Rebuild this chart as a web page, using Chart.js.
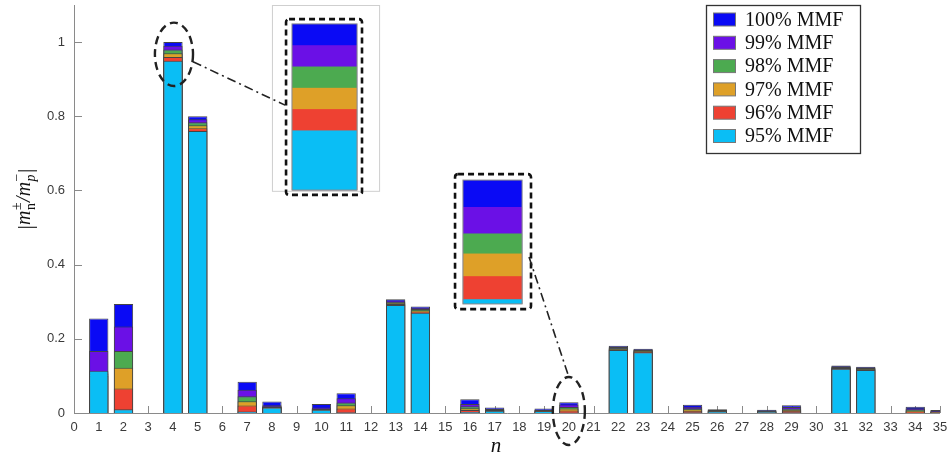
<!DOCTYPE html>
<html><head><meta charset="utf-8">
<script src="https://cdn.jsdelivr.net/npm/chart.js@4.4.1/dist/chart.umd.min.js"></script>
<style>html,body{margin:0;padding:0;background:#fff}#wrap{width:951px;height:459px;position:relative}</style>
</head><body><div id="wrap"><canvas id="c"></canvas></div>
<script>
// ---------- data ----------
const harmonics = [1,2,4,5,7,8,10,11,13,14,16,17,19,20,22,23,25,26,28,29,31,32,34,35];
const mmf100 = [0.255,0.294,1.000,0.800,0.084,0.031,0.024,0.053,0.307,0.287,0.037,0.015,0.012,0.029,0.181,0.173,0.022,0.010,0.009,0.021,0.128,0.125,0.017,0.008];
const mmf99  = [0.167,0.233,0.990,0.792,0.063,0.021,0.015,0.040,0.303,0.284,0.024,0.011,0.009,0.0227,0.178,0.1715,0.017,0.008,0.007,0.016,0.126,0.123,0.013,0.006];
const mmf98  = [0.110,0.167,0.980,0.784,0.045,0.018,0.012,0.028,0.300,0.2805,0.018,0.009,0.008,0.0165,0.176,0.170,0.013,0.007,0.006,0.012,0.124,0.121,0.010,0.004];
const mmf97  = [0.105,0.122,0.970,0.776,0.032,0.017,0.011,0.021,0.297,0.277,0.013,0.008,0.007,0.0118,0.174,0.168,0.010,0.006,0.005,0.009,0.1225,0.1195,0.007,0.003];
const mmf96  = [0.100,0.066,0.960,0.768,0.020,0.016,0.010,0.012,0.294,0.2735,0.008,0.007,0.006,0.0065,0.172,0.166,0.006,0.005,0.004,0.006,0.121,0.118,0.004,0.002];
const mmf95  = [0.114,0.010,0.950,0.760,0.004,0.015,0.009,0.002,0.291,0.270,0.003,0.006,0.005,0.0011,0.170,0.164,0.002,0.004,0.003,0.002,0.119,0.116,0.001,0.001];
const seriesLabels = ['95% MMF','96% MMF','97% MMF','98% MMF','99% MMF','100% MMF'];
const xTicks = [0,1,2,3,4,5,6,7,8,9,10,11,12,13,14,15,16,17,18,19,20,21,22,23,24,25,26,27,28,29,30,31,32,33,34,35];
const yTicks = [0,0.2,0.4,0.6,0.8,1];

// ---------- style ----------
const seriesColors = ['#0abef5','#ee4132','#dea028','#4caa50','#6b10e6','#0a0af5'];
const series = [mmf95, mmf96, mmf97, mmf98, mmf99, mmf100];
const AXIS = '#8a8a8a', TXT = '#3a3a3a';
const SERIF = '"Liberation Serif","Times New Roman",serif';
const SANS = '"Liberation Sans",Arial,sans-serif';

const datasets = series.map((s,k)=>({
  label: seriesLabels[k],
  data: harmonics.map((h,i)=>({x:h, y:s[i]})),
  backgroundColor: seriesColors[k],
  borderColor: '#454545',
  borderWidth: 1,
  grouped: false,
  barPercentage: 0.78,
  categoryPercentage: 1
}));

// ---------- plugins ----------
const axesPlugin = {
  id:'axesP',
  beforeDatasetsDraw(chart){
    const {ctx, chartArea:a, scales:{x,y}} = chart;
    ctx.save();
    ctx.strokeStyle = AXIS; ctx.lineWidth = 1;
    ctx.beginPath();
    x.ticks.forEach(t=>{const px=Math.round(x.getPixelForValue(t.value))+0.5; ctx.moveTo(px,a.bottom); ctx.lineTo(px,a.bottom-7);});
    y.ticks.forEach(t=>{const py=Math.round(y.getPixelForValue(t.value))+0.5; ctx.moveTo(a.left,py); ctx.lineTo(a.left+8,py);});
    ctx.stroke();
    ctx.beginPath();
    ctx.moveTo(a.left+0.5, a.top); ctx.lineTo(a.left+0.5, a.bottom+0.5); ctx.lineTo(a.right, a.bottom+0.5);
    ctx.stroke();
    ctx.restore();
  }
};

function insetBar(ctx, x, y, idx, x0, x1, y0, y1, lo, hi){
  const X0=x.getPixelForValue(x0), X1=x.getPixelForValue(x1);
  const Y0=y.getPixelForValue(y0), Y1=y.getPixelForValue(y1);
  for(let k=series.length-1;k>=0;k--){
    const v = Math.min(Math.max(series[k][idx],lo),hi);
    const top = Y0 - (v-lo)/(hi-lo)*(Y0-Y1);
    ctx.fillStyle = seriesColors[k];
    ctx.fillRect(X0, top, X1-X0, Y0-top);
  }
  ctx.strokeStyle='#8a8a8a'; ctx.lineWidth=1;
  ctx.strokeRect(X0, Y1, X1-X0, Y0-Y1);
}
function dashedRect(ctx, x, y, x0, x1, y0, y1){
  const X0=x.getPixelForValue(x0), X1=x.getPixelForValue(x1);
  const Y0=y.getPixelForValue(y0), Y1=y.getPixelForValue(y1);
  ctx.save(); ctx.strokeStyle='#111'; ctx.lineWidth=2.6; ctx.setLineDash([6,4]);
  ctx.beginPath(); ctx.roundRect(X0, Y1, X1-X0, Y0-Y1, 3); ctx.stroke(); ctx.restore();
}
function dashedEllipse(ctx, x, y, cx, cy, rx, ry){
  const CX=x.getPixelForValue(cx), CY=y.getPixelForValue(cy);
  const RX=Math.abs(x.getPixelForValue(cx+rx)-CX), RY=Math.abs(y.getPixelForValue(cy+ry)-CY);
  ctx.save(); ctx.strokeStyle='#222'; ctx.lineWidth=2.4; ctx.setLineDash([8,5]);
  ctx.beginPath(); ctx.ellipse(CX, CY, RX, RY, 0, 0, Math.PI*2); ctx.stroke(); ctx.restore();
}
function dashDot(ctx, x, y, xa, ya, xb, yb){
  ctx.save(); ctx.strokeStyle='#222'; ctx.lineWidth=1.6; ctx.setLineDash([9,4,2,4]);
  ctx.beginPath(); ctx.moveTo(x.getPixelForValue(xa), y.getPixelForValue(ya));
  ctx.lineTo(x.getPixelForValue(xb), y.getPixelForValue(yb)); ctx.stroke(); ctx.restore();
}

const annotPlugin = {
  id:'annotP',
  afterDatasetsDraw(chart){
    const {ctx, scales:{x,y}} = chart;
    ctx.save();
    const i4 = harmonics.indexOf(4), i20 = harmonics.indexOf(20);
    const FX0=x.getPixelForValue(8.0), FX1=x.getPixelForValue(12.33);
    const FY0=y.getPixelForValue(0.599), FY1=y.getPixelForValue(1.1);
    ctx.fillStyle='#fff'; ctx.fillRect(FX0,FY1,FX1-FX0,FY0-FY1);
    ctx.strokeStyle='#cfcfcf'; ctx.lineWidth=1; ctx.strokeRect(FX0+0.5,FY1+0.5,FX1-FX0,FY0-FY1);
    insetBar(ctx, x, y, i4, 8.81, 11.44, 0.601, 1.049, 0.922, 1.0);
    dashedRect(ctx, x, y, 8.57, 11.64, 0.588, 1.062);
    dashedEllipse(ctx, x, y, 4.04, 0.967, 0.77, 0.0855);
    dashDot(ctx, x, y, 4.81, 0.947, 8.53, 0.830);
    insetBar(ctx, x, y, i20, 15.72, 18.11, 0.294, 0.628, 0, mmf100[i20]);
    dashedRect(ctx, x, y, 15.40, 18.47, 0.280, 0.644);
    dashedEllipse(ctx, x, y, 20.0, 0.0054, 0.647, 0.0917);
    dashDot(ctx, x, y, 18.39, 0.4206, 20.0, 0.097);
    ctx.restore();
  }
};

const legendPlugin = {
  id:'legendP',
  afterDraw(chart){
    const ctx = chart.ctx;
    ctx.save();
    ctx.fillStyle='#fff'; ctx.fillRect(706.5,5.5,154,148);
    ctx.strokeStyle='#333'; ctx.lineWidth=1.3; ctx.strokeRect(706.5,5.5,154,148);
    ctx.font = '20px '+SERIF; ctx.textBaseline='middle'; ctx.textAlign='left';
    for(let r=0;r<series.length;r++){
      const k = series.length-1-r;
      const cy = 19.5 + r*23.3;
      ctx.fillStyle = seriesColors[k];
      ctx.fillRect(713, cy-6.5, 23, 13);
      ctx.strokeStyle='#777'; ctx.lineWidth=1; ctx.strokeRect(713.5, cy-6.5, 22, 13);
      ctx.fillStyle='#111';
      ctx.fillText(seriesLabels[k], 745, cy+1);
    }
    ctx.restore();
  }
};

const titlePlugin = {
  id:'titleP',
  afterDraw(chart){
    const ctx = chart.ctx;
    ctx.save();
    ctx.fillStyle='#111';
    ctx.font='italic 21px '+SERIF; ctx.textAlign='center'; ctx.textBaseline='alphabetic';
    ctx.fillText('n', 496, 452);
    ctx.translate(30, 199); ctx.rotate(-Math.PI/2);
    const parts = [
      {t:'|', f:'22px '+SERIF},
      {t:'m', f:'italic 20px '+SERIF},
      {sup:'\u00b1', sub:'n', supF:'14px '+SERIF, subF:'14px '+SERIF},
      {t:'/', f:'italic 20px '+SERIF},
      {t:'m', f:'italic 20px '+SERIF},
      {sup:'\u2212', sub:'p', supF:'14px '+SERIF, subF:'italic 14px '+SERIF},
      {t:'|', f:'22px '+SERIF}
    ];
    let total=0;
    parts.forEach(p=>{
      if(p.t){ctx.font=p.f; p.w=ctx.measureText(p.t).width;}
      else {ctx.font=p.supF; const a=ctx.measureText(p.sup).width; ctx.font=p.subF; const b=ctx.measureText(p.sub).width; p.w=Math.max(a,b)+1;}
      total+=p.w;
    });
    let cx=-total/2;
    ctx.textAlign='left'; ctx.textBaseline='alphabetic';
    parts.forEach(p=>{
      if(p.t){ctx.font=p.f; ctx.fillText(p.t, cx, p.t==='|'?2:0);}
      else {ctx.font=p.supF; ctx.fillText(p.sup, cx+0.5, -9); ctx.font=p.subF; ctx.fillText(p.sub, cx+0.5, 5);}
      cx+=p.w;
    });
    ctx.restore();
  }
};

function noPad(s){ s.paddingTop=0; s.paddingBottom=0; s.paddingLeft=0; s.paddingRight=0; }

new Chart(document.getElementById('c'), {
  type:'bar',
  data:{datasets},
  options:{
    responsive:true, maintainAspectRatio:false, animation:false, devicePixelRatio:1,
    layout:{padding:{top:5,right:11,left:0,bottom:0}},
    plugins:{legend:{display:false}, tooltip:{enabled:false}, title:{display:false}},
    scales:{
      x:{type:'linear', min:0, max:35, offset:false,
        grid:{display:false, drawTicks:false, offset:false}, border:{display:false},
        afterBuildTicks:s=>{s.ticks = xTicks.map(v=>({value:v}));},
        afterFit:s=>{s.height=46; noPad(s);},
        ticks:{autoSkip:false, maxRotation:0, minRotation:0, padding:7, color:TXT, font:{family:SANS, size:13}, callback:v=>String(v)}
      },
      y:{type:'linear', min:0, max:1.1,
        grid:{display:false, drawTicks:false}, border:{display:false},
        afterBuildTicks:s=>{s.ticks = yTicks.map(v=>({value:v}));},
        afterFit:s=>{s.width=74; noPad(s);},
        ticks:{padding:9, color:TXT, font:{family:SANS, size:13}, callback:v=>String(Math.round(v*10)/10)}
      }
    }
  },
  plugins:[axesPlugin, annotPlugin, legendPlugin, titlePlugin]
});
</script></body></html>
